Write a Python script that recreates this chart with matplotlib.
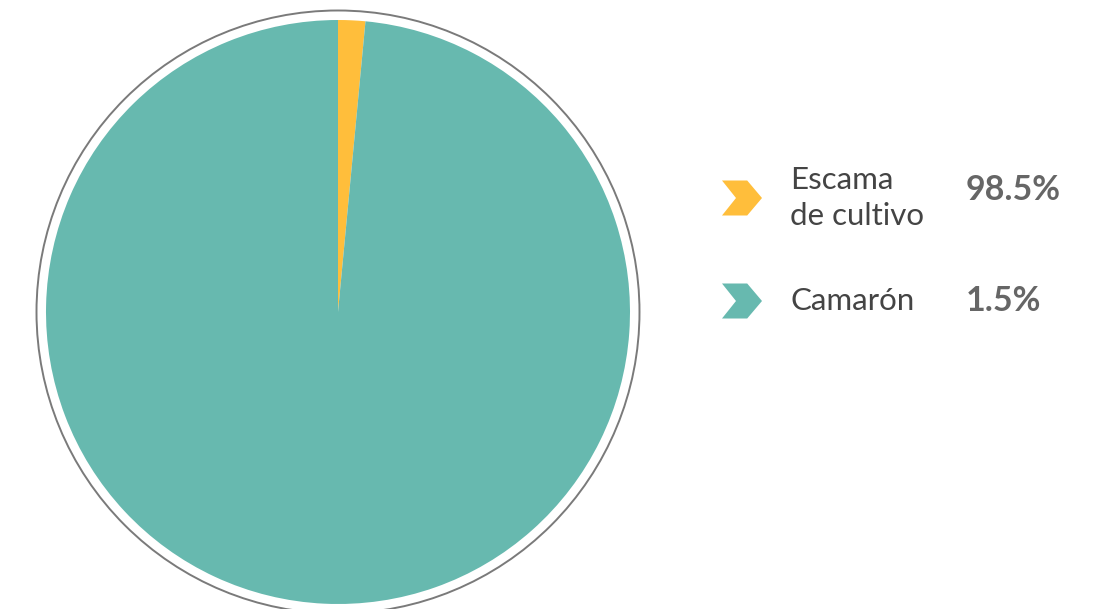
import matplotlib
matplotlib.use("Agg")
import matplotlib.pyplot as plt
from matplotlib.patches import Circle, Polygon

# Data
categories = ["Escama\nde cultivo", "Camarón"]
legend_values = ["98.5%", "1.5%"]
legend_colors = ["#FFBE3B", "#67B9AF"]
pie_shares = [1.5, 98.5]
pie_colors = ["#FFBE3B", "#67B9AF"]

W, H = 1100, 609
fig = plt.figure(figsize=(W / 100, H / 100), dpi=100)
ax = fig.add_axes([0, 0, 1, 1])

cx, cy, r = 338, H - 312, 292
ax.pie(pie_shares, colors=pie_colors, startangle=90, counterclock=False,
       center=(cx, cy), radius=r, wedgeprops=dict(linewidth=0))
ax.add_patch(Circle((cx, cy), 301.5, fill=False, edgecolor="#7a7a7a", linewidth=1.4))

ax.set_xlim(0, W)
ax.set_ylim(0, H)
ax.set_aspect("equal")
ax.axis("off")

def chevron(x, ymid, h, w, color):
    top = H - (ymid - h / 2)
    bot = H - (ymid + h / 2)
    mid = H - ymid
    pts = [(x, top), (x + w * 0.63, top), (x + w, mid), (x + w * 0.63, bot), (x, bot), (x + w * 0.35, mid)]
    ax.add_patch(Polygon(pts, closed=True, facecolor=color, edgecolor="none"))

rows_y = [198, 301]
for cat, val, col, y in zip(categories, legend_values, legend_colors, rows_y):
    chevron(722, y, 35, 40, col)
    ax.text(790, H - y, cat, fontsize=22.5, color="#444444", family="Lato",
            va="center", ha="left", linespacing=1.38)
    ax.text(966, H - y + (8 if "\n" in cat else 0), val, fontsize=24.5, color="#666666",
            family="Lato", fontweight="bold", va="center", ha="left")

fig.savefig("out.png", dpi=100)
